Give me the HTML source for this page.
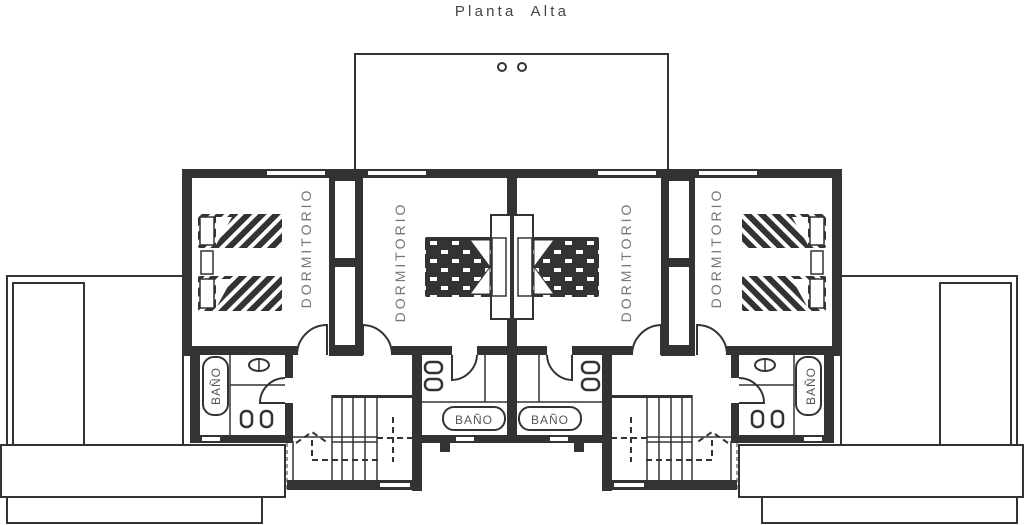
<!DOCTYPE html>
<html><head><meta charset="utf-8"><style>
html,body{margin:0;padding:0;background:#fff;width:1024px;height:525px;overflow:hidden}
svg{display:block}
.t{font-family:"Liberation Sans",sans-serif;fill:#777;font-size:14px;letter-spacing:3px}
</style></head><body>
<svg width="1024" height="525" viewBox="0 0 1024 525" xmlns="http://www.w3.org/2000/svg">
<defs>
<pattern id="st" width="10" height="10" patternUnits="userSpaceOnUse" patternTransform="rotate(45)">
<rect width="10" height="10" fill="#333"/><rect x="0" y="0" width="4" height="10" fill="#fff"/>
</pattern>
<pattern id="ck" width="22" height="18" patternUnits="userSpaceOnUse" x="427" y="238">
<rect width="22" height="18" fill="#333"/>
<rect x="3" y="3" width="7" height="4" fill="#fff"/><rect x="14" y="12" width="7" height="4" fill="#fff"/>
</pattern>
<g id="half" fill="none" stroke="#333">
 <rect x="7" y="276" width="176" height="170" stroke-width="2"/>
 <rect x="13" y="283" width="71" height="163" stroke-width="2"/>
 <rect x="1" y="445" width="284" height="52" fill="#fff" stroke-width="2"/>
 <rect x="7" y="497" width="255" height="26" stroke-width="2"/>
 <g fill="#333" stroke="none">
  <rect x="182" y="169" width="330" height="9"/>
  <rect x="182" y="169" width="10" height="187"/>
  <rect x="182" y="346" width="115" height="9"/>
  <rect x="329" y="176" width="34" height="180"/>
  <rect x="392" y="346" width="60" height="9"/>
  <rect x="477" y="346" width="35" height="9"/>
  <rect x="507" y="169" width="5" height="274"/>
  <rect x="190" y="355" width="10" height="88"/>
  <rect x="285" y="355" width="8" height="23"/>
  <rect x="285" y="403" width="8" height="38"/>
  <rect x="190" y="435" width="103" height="8"/>
  <rect x="412" y="355" width="10" height="136"/>
  <rect x="287" y="480" width="135" height="10"/>
  <rect x="420" y="435" width="92" height="8"/>
  <rect x="440" y="443" width="10" height="9"/>
 </g>
 <g fill="#fff" stroke="none">
  <rect x="267" y="171" width="58" height="4"/>
  <rect x="368" y="171" width="58" height="4"/>
  <rect x="202" y="437" width="18" height="4"/>
  <rect x="380" y="483" width="30" height="4"/>
  <rect x="456" y="437" width="18" height="4"/>
  <rect x="335" y="181" width="20" height="77"/>
  <rect x="335" y="267" width="20" height="78"/>
 </g>
 <path d="M297 355 A30 30 0 0 1 327 325 L327 355" stroke-width="2"/>
 <path d="M392 355 A30 30 0 0 0 363 325 L363 355" stroke-width="2"/>
 <path d="M452 355 L452 380 A26 26 0 0 0 477 355" stroke-width="2"/>
 <path d="M285 378 A25 25 0 0 0 260 403 L285 403" stroke-width="2"/>
 <rect x="198" y="214" width="84" height="34" rx="2" fill="url(#st)" stroke="none"/>
 <rect x="198" y="276" width="84" height="35" rx="2" fill="url(#st)" stroke="none"/>
 <rect x="200" y="217" width="14" height="28" fill="#fff" stroke-width="1.5"/>
 <rect x="200" y="279" width="14" height="29" fill="#fff" stroke-width="1.5"/>
 <rect x="201" y="251" width="12" height="23" fill="#fff" stroke-width="1.5"/>
 <path d="M216 217 L232 217 L216 245Z M216 279 L232 279 L216 308Z" fill="#fff" stroke="none"/>
 <rect x="491" y="215" width="20" height="104" fill="#fff" stroke-width="2"/>
 <rect x="425" y="237" width="66" height="60" rx="2" fill="url(#ck)" stroke="none"/>
 <rect x="492" y="238" width="14" height="58" fill="#fff" stroke-width="1.5"/>
 <path d="M490 240 L470 240 L490 267Z M490 294 L470 294 L490 267Z" fill="#fff" stroke="#333" stroke-width="1"/>
 <rect x="203" y="357" width="25" height="58" rx="11" fill="#fff" stroke-width="2"/>
 <line x1="230" y1="355" x2="230" y2="435" stroke-width="1.5"/>
 <line x1="230" y1="385" x2="285" y2="385" stroke-width="1.5"/>
 <ellipse cx="259" cy="365" rx="10" ry="6" stroke-width="2"/>
 <line x1="259" y1="358" x2="259" y2="372" stroke-width="1.5"/>
 <rect x="241" y="411" width="11" height="16" rx="5" stroke-width="2.5"/>
 <rect x="261" y="411" width="11" height="16" rx="5" stroke-width="2.5"/>
 <line x1="422" y1="402" x2="507" y2="402" stroke-width="1.5"/>
 <line x1="485" y1="355" x2="485" y2="402" stroke-width="1.5"/>
 <rect x="425" y="362" width="17" height="11" rx="5" stroke-width="2.5"/>
 <rect x="425" y="379" width="17" height="11" rx="5" stroke-width="2.5"/>
 <rect x="443" y="407" width="62" height="23" rx="11" fill="#fff" stroke-width="2"/>
 <rect x="332" y="395" width="80" height="3" fill="#333" stroke="none"/>
 <g stroke-width="1.5">
 <line x1="332" y1="395" x2="332" y2="480"/><line x1="342" y1="398" x2="342" y2="480"/>
 <line x1="353" y1="398" x2="353" y2="480"/><line x1="365" y1="398" x2="365" y2="480"/>
 <line x1="377" y1="398" x2="377" y2="480"/>
 <line x1="293" y1="437" x2="377" y2="437"/><line x1="332" y1="442" x2="377" y2="442"/>
 <line x1="293" y1="441" x2="293" y2="480"/>
 </g>
 <g stroke-width="2" stroke-dasharray="6 4">
 <path d="M312 440 L312 460 L382 460"/>
 <line x1="393" y1="417" x2="393" y2="462"/>
 <line x1="377" y1="438" x2="412" y2="438"/>
 <path d="M296 443 L312 432 L328 443"/>
 </g>
 <line x1="287" y1="443" x2="287" y2="490" stroke-width="1" stroke-dasharray="4 3"/>
</g>
</defs>
<use href="#half"/>
<use href="#half" transform="translate(1024,0) scale(-1,1)"/>
<rect x="355" y="54" width="313" height="116" fill="none" stroke="#333" stroke-width="2"/>
<circle cx="502" cy="67" r="4" fill="none" stroke="#333" stroke-width="2"/>
<circle cx="522" cy="67" r="4" fill="none" stroke="#333" stroke-width="2"/>
<text x="512" y="16" text-anchor="middle" class="t" style="fill:#444;font-size:15px;letter-spacing:3.2px" xml:space="preserve">Planta  Alta</text>
<g class="t">
<text transform="translate(311,248) rotate(-90)" text-anchor="middle">DORMITORIO</text>
<text transform="translate(405,262) rotate(-90)" text-anchor="middle">DORMITORIO</text>
<text transform="translate(631,262) rotate(-90)" text-anchor="middle">DORMITORIO</text>
<text transform="translate(721,248) rotate(-90)" text-anchor="middle">DORMITORIO</text>
<text transform="translate(220,386) rotate(-90)" text-anchor="middle" style="font-size:12px;letter-spacing:1px;fill:#555">BAÑO</text>
<text transform="translate(815,386) rotate(-90)" text-anchor="middle" style="font-size:12px;letter-spacing:1px;fill:#555">BAÑO</text>
<text x="474" y="424" text-anchor="middle" style="font-size:12px;letter-spacing:1px;fill:#555">BAÑO</text>
<text x="550" y="424" text-anchor="middle" style="font-size:12px;letter-spacing:1px;fill:#555">BAÑO</text>
</g>
</svg>
</body></html>
